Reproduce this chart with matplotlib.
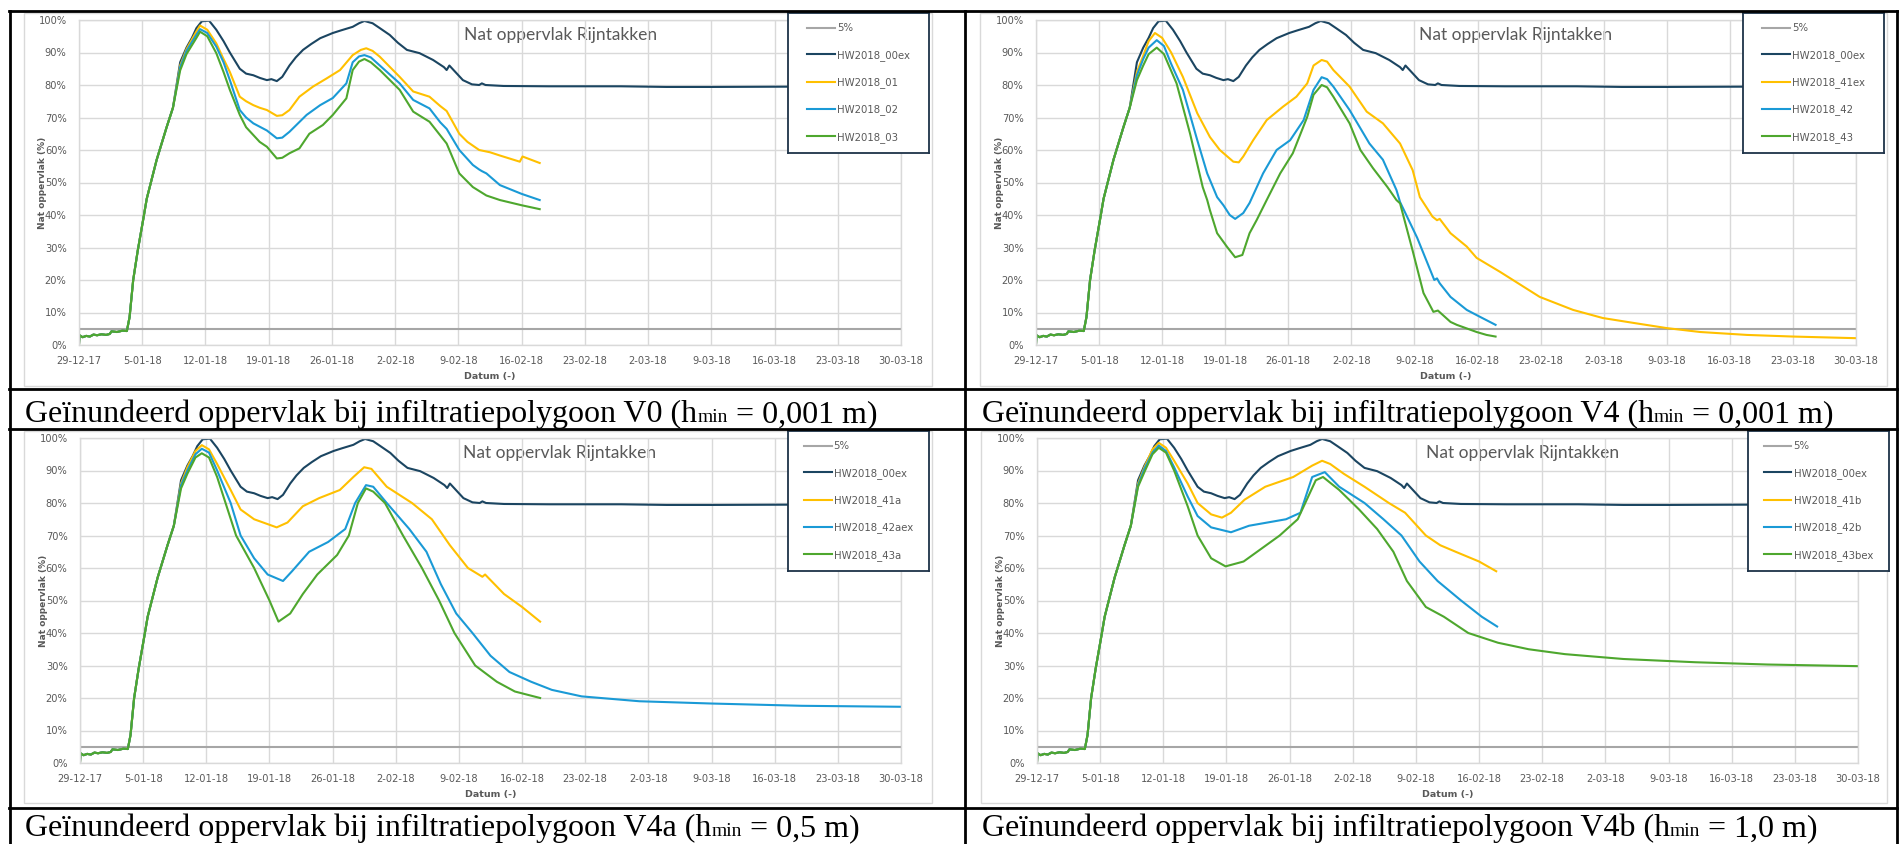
import pandas as pd
import matplotlib.pyplot as plt
import matplotlib.dates as mdates
from matplotlib.lines import Line2D
from matplotlib.patches import Rectangle

W, H = 1901, 844
start = pd.Timestamp('2017-12-29')
tick_dates = pd.date_range(start, '2018-03-30', freq='7D')
pct_ticks = list(range(0, 101, 10))

NAVY = '#1b4561'
YELLOW = '#ffc000'
BLUE = '#1a9ad6'
GREEN = '#4ea72e'
GREY = '#a6a6a6'
TXT = '#595959'
GRID = '#d9d9d9'

# 5% reference line
threshold_days = [0, 91]
threshold_pct = [5, 5]

# rising limb, identical for every run
rise_days = [0, 0.05, 0.4, 0.8, 1.2, 1.6, 2.0, 2.5, 3.0, 3.4, 3.6, 4.2, 4.8, 5.3,
             5.6, 6.0, 6.5, 7.1, 7.5, 8.6, 9.7, 10.4]
rise_pct = [0.3, 3.0, 2.4, 2.8, 2.6, 3.2, 3.0, 3.3, 3.1, 3.4, 4.2, 4.0, 4.4, 4.3,
            8.6, 20, 29, 38.5, 45, 57, 67, 73]

# reference run HW2018_00ex
ex00_days = [11.2, 11.9, 12.5, 13.0, 13.6, 14.4, 15.2, 16.0, 16.7, 17.8, 18.5, 19.3,
             20.0, 20.8, 21.3, 21.9, 22.5, 23.3, 24.0, 24.8, 25.7, 26.7, 28.1, 29.0,
             30.3, 31.0, 31.6, 32.5, 33.3, 34.4, 35.3, 36.3, 37.7, 39.2, 40.4, 40.7,
             41.0, 41.5, 42.5, 43.5, 44.3, 44.6, 45.0, 47.0, 52, 60, 65, 70, 80, 91]
ex00_pct = [87, 91.5, 94.5, 97.5, 99.6, 99.8, 97, 93.5, 90, 85, 83.5, 83,
            82.2, 81.5, 81.8, 81.2, 82.5, 86, 88.5, 90.8, 92.6, 94.4, 96, 96.8,
            97.9, 99.0, 99.7, 99, 97.5, 95.4, 93, 90.8, 89.8, 87.7, 85.5, 84.6,
            86, 84.5, 81.5, 80.2, 80, 80.5, 80, 79.7, 79.6, 79.6, 79.4, 79.4, 79.5, 79.5]

# V0
v0_01_days = [11.2, 11.9, 13.0, 13.4, 14.2, 15.2, 16.0, 16.7, 17.8, 18.5, 19.3, 20.0,
              20.8, 21.9, 22.5, 23.3, 24.4, 25.9, 27.4, 28.9, 30.3, 31.2, 31.8, 32.5,
              33.3, 35.5, 37.0, 38.8, 40.0, 40.7, 42.1, 43.0, 44.3, 45.5, 46.6, 48.8,
              49.1, 51.0]
v0_01_pct = [86, 91, 96.5, 98.3, 97, 92.8, 88, 84, 76.4, 75, 73.8, 73,
             72.3, 70.5, 70.7, 72.3, 76.4, 79.5, 82, 84.6, 89.2, 90.8, 91.3, 90.5,
             88.7, 82.5, 78, 76.4, 73.5, 72, 65, 62.5, 60, 59.3, 58.3, 56.4,
             58, 56]
v0_02_days = [11.2, 11.9, 13.0, 13.4, 14.2, 15.2, 16.0, 16.7, 17.8, 18.5, 19.3, 20.8,
              21.9, 22.5, 23.3, 25.2, 26.7, 28.1, 29.6, 30.3, 31.0, 31.6, 32.3, 33.3,
              35.5, 37.0, 38.8, 40.0, 40.7, 42.1, 43.6, 44.3, 44.6, 45.1, 46.6, 49.0,
              51.0]
v0_02_pct = [85.5, 90.5, 95.5, 97.2, 96, 91.8, 87, 81.5, 72.3, 70, 68.2, 66,
             63.6, 63.8, 65.6, 70.8, 73.8, 76, 80.5, 87, 88.8, 89.2, 88.5, 86,
             80.5, 75.4, 72.8, 68.5, 66.5, 60, 55.4, 54, 53.5, 52.8, 49.2, 46.5,
             44.6]
v0_03_days = [11.2, 11.9, 13.0, 13.4, 14.2, 15.2, 16.0, 16.7, 17.8, 18.5, 19.3, 20.0,
              20.8, 21.9, 22.5, 23.3, 24.4, 25.5, 27.0, 28.1, 29.6, 30.3, 31.0, 31.6,
              32.3, 33.3, 35.5, 37.0, 38.8, 40.7, 42.1, 43.6, 45.1, 46.6, 49.0, 51.0]
v0_03_pct = [84.5, 89.5, 94.5, 96.4, 95, 89.8, 84, 78.5, 70.8, 67, 64.6, 62.5,
             61, 57.4, 57.6, 59, 60.5, 65, 67.7, 70.8, 75.9, 84.6, 87.2, 88,
             87, 84.6, 78.5, 71.8, 68.7, 62, 52.8, 48.6, 46, 44.6, 43, 41.8]

# V4
v4_41_days = [11.2, 11.9, 12.5, 13.2, 14.0, 15.0, 16.3, 17.9, 19.3, 20.4, 21.9, 22.5,
              23.0, 24.1, 25.6, 27.4, 28.9, 30.1, 30.8, 31.7, 32.3, 33.0, 34.8, 36.7,
              38.5, 40.4, 41.8, 42.6, 44.0, 44.5, 44.8, 46.0, 47.8, 48.9, 51.5, 55.9,
              59.6, 62.9, 66.3, 70.0, 73.7, 78.9, 84.0, 91.0]
v4_41_pct = [84, 89, 93.5, 96, 94.5, 90, 82.5, 71.3, 64, 60, 56.4, 56.2,
             58, 63, 69.2, 73.3, 76.4, 80.5, 86, 87.7, 87.2, 84.6, 79.5, 71.8,
             68.2, 62, 53.8, 45.5, 39.5, 38.4, 38.8, 34.4, 30.3, 26.8, 22.5, 14.8,
             10.8, 8.3, 6.8, 5.2, 4.0, 3.1, 2.6, 2.1]
v4_42_days = [11.2, 11.9, 12.5, 13.4, 14.2, 15.0, 16.3, 17.9, 19.0, 20.1, 20.8, 21.5,
              22.1, 23.0, 23.7, 25.2, 26.7, 28.2, 29.7, 30.8, 31.7, 32.3, 33.0, 34.8,
              37.0, 38.5, 40.0, 40.4, 42.3, 44.2, 44.5, 44.8, 46.0, 47.8, 48.9, 51.0]
v4_42_pct = [83, 88, 91.5, 93.8, 92, 86.5, 78.5, 63, 52.8, 45.5, 43, 40,
             38.8, 40.6, 43.7, 52.8, 60, 63, 69.2, 78.5, 82.4, 81.8, 79.5, 72.3,
             62, 57, 47.7, 44, 33, 20, 20.5, 19, 14.8, 10.8, 9.2, 6.2]
v4_43_days = [11.2, 11.9, 12.5, 13.4, 14.2, 15.6, 17.1, 18.5, 19.0, 19.3, 20.1, 21.2,
              22.1, 22.9, 23.7, 24.5, 25.6, 27.1, 28.5, 30.1, 30.8, 31.7, 32.3, 33.0,
              34.8, 36.0, 37.4, 39.0, 40.0, 40.4, 41.8, 43.0, 44.1, 44.6, 46.0, 46.7,
              48.9, 50.0, 51.0]
v4_43_pct = [81.5, 86, 89.5, 91.5, 89.5, 80.5, 65, 48.6, 44.6, 41.5, 34.4, 30.2,
             27, 27.7, 34.4, 38.5, 44.6, 52.8, 59, 70.2, 77, 80, 79.3, 76.4,
             68.2, 60, 54.4, 48.6, 44.6, 43.6, 29, 16, 10.2, 10.6, 7.1, 6.2,
             4, 3.1, 2.6]

# V4a
v4a_41_days = [11.2, 11.9, 12.8, 13.5, 14.3, 15.2, 16.7, 17.8, 19.3, 20.8, 21.8, 23.0,
               24.7, 26.5, 28.8, 30.3, 31.5, 32.3, 34.0, 36.8, 39.0, 41.0, 43.0, 44.6,
               44.9, 47.0, 49.0, 51.0]
v4a_41_pct = [86, 91, 96, 97.8, 96.5, 92, 84, 78, 75, 73.5, 72.5, 74,
              79, 81.5, 84, 88, 91, 90.5, 85, 80, 75, 67, 60, 57.3,
              58, 52, 48, 43.5]
v4a_42_days = [11.2, 11.9, 12.8, 13.5, 14.3, 15.2, 16.7, 17.8, 19.3, 20.8, 22.5, 23.5,
               25.4, 27.5, 29.4, 30.5, 31.7, 32.5, 34.0, 36.5, 38.4, 40.0, 41.7, 43.5,
               45.5, 47.6, 50.0, 52.3, 55.6, 62, 70, 80, 91]
v4a_42_pct = [85.5, 90, 95, 96.7, 95.5, 90, 80, 70, 63, 58, 56, 59,
              65, 68, 72, 80, 85.5, 85, 80, 72, 65, 55, 46, 40,
              33, 28, 25, 22.5, 20.5, 19, 18.3, 17.6, 17.3]
v4a_43_days = [11.2, 11.9, 12.8, 13.5, 14.3, 15.2, 17.3, 19.3, 21.0, 22.0, 23.3, 24.7,
               26.3, 28.5, 29.8, 30.8, 31.7, 32.5, 33.8, 35.8, 37.9, 39.8, 41.5, 43.8,
               46.2, 48.2, 51.0]
v4a_43_pct = [84.5, 89, 94, 95.3, 94, 88, 70, 60, 50, 43.5, 46, 52,
              58, 64, 70, 80, 84.5, 83.5, 80, 70, 60, 50, 40, 30,
              25, 22, 20]

# V4b
v4b_41_days = [11.2, 11.9, 12.8, 13.5, 14.3, 15.2, 16.7, 17.8, 19.3, 20.5, 21.5, 23,
               25.3, 28.4, 30.5, 31.6, 32.5, 34.0, 36.3, 39.0, 40.8, 43.1, 44.7, 46.4,
               49.0, 50.9]
v4b_41_pct = [86, 91, 96.5, 98.5, 97, 93, 86, 80, 76.5, 75.5, 77, 81,
              85, 88, 91.5, 93, 92, 89, 85, 80, 77, 70, 67, 65,
              62, 59]
v4b_42_days = [11.2, 11.9, 12.8, 13.5, 14.3, 15.2, 16.7, 17.8, 19.3, 21.5, 23.5, 27.6,
               29.2, 30.5, 31.9, 33.5, 36.3, 38.4, 40.4, 42.4, 44.4, 47.0, 49.3, 51.0]
v4b_42_pct = [85.5, 90.5, 95.5, 97.7, 96, 91, 82, 76, 72.5, 71, 73, 75,
              77, 88, 89.5, 85, 80, 75, 70, 62, 56, 50, 45, 42]
v4b_43_days = [11.2, 11.9, 12.8, 13.5, 14.3, 15.2, 16.7, 17.8, 19.3, 20.9, 22.9, 24.9,
               26.9, 28.9, 30.9, 31.7, 33.5, 35.7, 37.7, 39.5, 41.0, 43.1, 45.1, 47.8,
               51.1, 54.5, 58.5, 65, 73, 81, 91]
v4b_43_pct = [85, 89.5, 95, 97, 95.5, 90, 79, 70, 63, 60.5, 62, 66,
              70, 75, 87, 88, 84, 78, 72, 65, 56, 48, 45, 40,
              37, 35, 33.5, 32, 31, 30.3, 29.8]

fig = plt.figure(figsize=(W / 100, H / 100), dpi=100)
bg = fig.add_axes([0, 0, 1, 1], zorder=0)
bg.set_xlim(0, W)
bg.set_ylim(H, 0)
bg.axis('off')


def to_dates(days):
    return start + pd.to_timedelta(days, unit='D')


def px_axes(l, t, r, b, **kw):
    return fig.add_axes([l / W, 1 - b / H, (r - l) / W, (b - t) / H], **kw)


def draw_panel(plot_box, area_box, legend_box, title_x, runs):
    l, t, r, b = plot_box
    bg.add_patch(Rectangle((area_box[0], area_box[1]), area_box[2] - area_box[0],
                           area_box[3] - area_box[1], fill=False, ec=GRID, lw=1))
    ax = px_axes(l, t, r, b, zorder=1)
    ax.set_facecolor('none')
    handles = []
    labels = []
    ln, = ax.plot(to_dates(threshold_days), threshold_pct, color=GREY, lw=1.5)
    handles.append(ln)
    labels.append('5%')
    for name, color, days, pct in runs:
        ln, = ax.plot(to_dates(days), pct, color=color, lw=1.5, solid_joinstyle='round')
        handles.append(ln)
        labels.append(name)
    ax.set_xlim(start, to_dates([91])[0])
    ax.set_ylim(0, 100)
    ax.set_xticks(tick_dates)
    ax.xaxis.set_major_formatter(mdates.DateFormatter('%-d-%m-%y'))
    ax.set_yticks(pct_ticks)
    ax.set_yticklabels([f'{p}%' for p in pct_ticks])
    ax.grid(True, color=GRID, lw=1)
    ax.tick_params(length=0, labelsize=7.1, colors=TXT, pad=9)
    ax.tick_params(axis='x', pad=8)
    for s in ax.spines.values():
        s.set_color(GRID)
        s.set_linewidth(1)
    ax.set_ylabel('Nat oppervlak (%)', fontsize=6.5, fontweight='bold', color=TXT, va='center')
    ax.set_xlabel('Datum (-)', fontsize=6.8, fontweight='bold', color=TXT, va='center')
    ax.yaxis.set_label_coords(-37 / (r - l), 0.5)
    ax.xaxis.set_label_coords(0.5, -31 / (b - t))
    bg.text(title_x, t + 15, 'Nat oppervlak Rijntakken', family='Lato', fontsize=12.5,
            color=TXT, va='center', ha='left')

    lg = px_axes(*legend_box, zorder=5)
    lg.set_xticks([])
    lg.set_yticks([])
    lg.set_facecolor('white')
    for s in lg.spines.values():
        s.set_color('#1e3348')
        s.set_linewidth(1.3)
    lg.legend(handles, labels, loc='center', frameon=False, fontsize=7.3,
              labelcolor=TXT, handlelength=2.7, handletextpad=0.2, labelspacing=1.62,
              borderaxespad=0)


def caption(x, y, text, sub, tail):
    t1 = bg.text(x, y, text, family='Liberation Serif', fontsize=23, va='baseline')
    t2 = bg.annotate(sub, xy=(1, y), xycoords=(t1, 'data'), family='Liberation Serif',
                     fontsize=14, va='baseline')
    bg.annotate(tail, xy=(1, y), xycoords=(t2, 'data'), family='Liberation Serif',
                fontsize=23, va='baseline')


draw_panel((79, 20, 901, 345), (24, 13, 932, 386), (788, 13, 929, 153), 464,
           [('HW2018_00ex', NAVY, rise_days + ex00_days, rise_pct + ex00_pct),
            ('HW2018_01', YELLOW, rise_days + v0_01_days, rise_pct + v0_01_pct),
            ('HW2018_02', BLUE, rise_days + v0_02_days, rise_pct + v0_02_pct),
            ('HW2018_03', GREEN, rise_days + v0_03_days, rise_pct + v0_03_pct)])
draw_panel((1036, 20, 1856, 345), (980, 13, 1887, 386), (1743, 13, 1884, 153), 1419,
           [('HW2018_00ex', NAVY, rise_days + ex00_days, rise_pct + ex00_pct),
            ('HW2018_41ex', YELLOW, rise_days + v4_41_days, rise_pct + v4_41_pct),
            ('HW2018_42', BLUE, rise_days + v4_42_days, rise_pct + v4_42_pct),
            ('HW2018_43', GREEN, rise_days + v4_43_days, rise_pct + v4_43_pct)])
draw_panel((80, 438, 901, 763), (24, 431, 932, 803), (788, 431, 929, 571), 463,
           [('HW2018_00ex', NAVY, rise_days + ex00_days, rise_pct + ex00_pct),
            ('HW2018_41a', YELLOW, rise_days + v4a_41_days, rise_pct + v4a_41_pct),
            ('HW2018_42aex', BLUE, rise_days + v4a_42_days, rise_pct + v4a_42_pct),
            ('HW2018_43a', GREEN, rise_days + v4a_43_days, rise_pct + v4a_43_pct)])
draw_panel((1037, 438, 1858, 763), (981, 431, 1887, 803), (1748, 431, 1889, 571), 1426,
           [('HW2018_00ex', NAVY, rise_days + ex00_days, rise_pct + ex00_pct),
            ('HW2018_41b', YELLOW, rise_days + v4b_41_days, rise_pct + v4b_41_pct),
            ('HW2018_42b', BLUE, rise_days + v4b_42_days, rise_pct + v4b_42_pct),
            ('HW2018_43bex', GREEN, rise_days + v4b_43_days, rise_pct + v4b_43_pct)])

caption(25, 422, 'Geïnundeerd oppervlak bij infiltratiepolygoon V0 (h', 'min', ' = 0,001 m)')
caption(982, 422, 'Geïnundeerd oppervlak bij infiltratiepolygoon V4 (h', 'min', ' = 0,001 m)')
caption(25, 836, 'Geïnundeerd oppervlak bij infiltratiepolygoon V4a (h', 'min', ' = 0,5 m)')
caption(982, 836, 'Geïnundeerd oppervlak bij infiltratiepolygoon V4b (h', 'min', ' = 1,0 m)')

# table borders
frame = fig.add_axes([0, 0, 1, 1], zorder=10)
frame.set_xlim(0, W)
frame.set_ylim(H, 0)
frame.axis('off')
for y in (11, 389, 429, 808):
    frame.add_line(Line2D([9, 1897], [y, y], color='black', lw=2))
for x in (10, 965, 1897):
    frame.add_line(Line2D([x, x], [11, 844], color='black', lw=2))

fig.savefig('out.png', dpi=100)
